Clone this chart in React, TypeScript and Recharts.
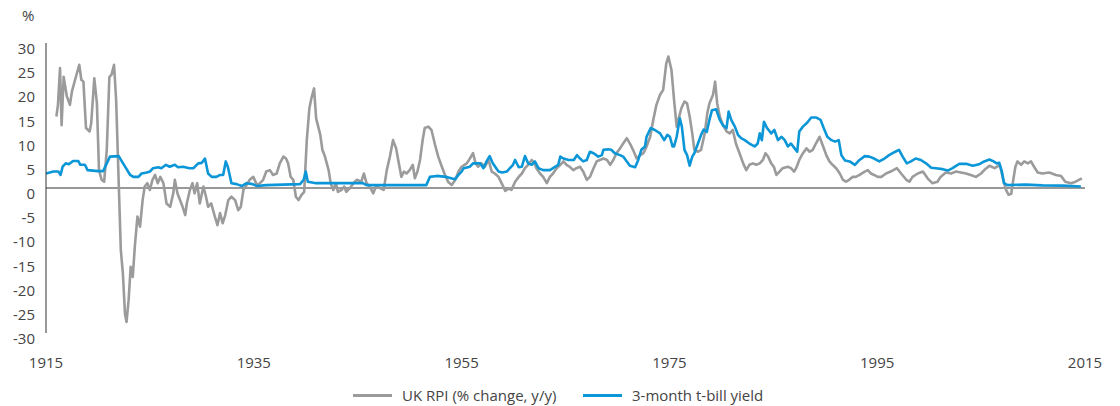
import { LineChart, Line, XAxis, YAxis, ReferenceLine } from "recharts";

// UK RPI, % change y/y (irregular dates)
const rpiYears = [
  1916.0, 1916.15, 1916.35, 1916.5, 1916.7, 1917.0, 1917.3, 1917.5, 1917.8, 1918.2, 1918.4, 1918.6,
  1918.85, 1919.2, 1919.35, 1919.65, 1919.9, 1920.1, 1920.35, 1920.6, 1920.85, 1921.1, 1921.3, 1921.55,
  1921.75, 1922.0, 1922.2, 1922.4, 1922.6, 1922.75, 1922.95, 1923.15, 1923.35, 1923.55, 1923.8, 1924.05,
  1924.3, 1924.5, 1924.75, 1925.0, 1925.25, 1925.5, 1925.75, 1926.0, 1926.3, 1926.6, 1926.95, 1927.25,
  1927.4, 1927.65, 1927.9, 1928.15, 1928.4, 1928.55, 1928.85, 1929.1, 1929.3, 1929.55, 1929.8, 1930.15,
  1930.4, 1930.6, 1930.9, 1931.25, 1931.5, 1931.75, 1932.0, 1932.25, 1932.55, 1932.85, 1933.2, 1933.5,
  1933.75, 1934.0, 1934.3, 1934.6, 1934.95, 1935.3, 1935.6, 1935.9, 1936.2, 1936.55, 1936.85, 1937.2,
  1937.5, 1937.85, 1938.1, 1938.3, 1938.55, 1938.8, 1939.05, 1939.3, 1939.6, 1939.85, 1940.1, 1940.35,
  1940.55, 1940.8, 1941.0, 1941.2, 1941.4, 1941.6, 1941.85, 1942.2, 1942.4, 1942.65, 1942.9, 1943.1,
  1943.45, 1943.7, 1943.9, 1944.25, 1944.6, 1944.9, 1945.35, 1945.6, 1945.85, 1946.15, 1946.5, 1946.75,
  1947.15, 1947.5, 1947.8, 1948.1, 1948.4, 1948.7, 1948.9, 1949.2, 1949.45, 1949.7, 1950.0, 1950.3,
  1950.5, 1950.75, 1951.0, 1951.25, 1951.45, 1951.8, 1952.1, 1952.45, 1952.75, 1953.1, 1953.4, 1953.7,
  1954.05, 1954.4, 1954.7, 1955.0, 1955.5, 1955.8, 1956.1, 1956.35, 1956.6, 1956.9, 1957.25, 1957.6,
  1957.9, 1958.2, 1958.55, 1958.85, 1959.2, 1959.5, 1959.8, 1960.15, 1960.5, 1960.8, 1961.1, 1961.4,
  1961.75, 1962.0, 1962.2, 1962.55, 1962.85, 1963.2, 1963.5, 1963.8, 1964.15, 1964.5, 1964.8, 1965.1,
  1965.4, 1965.75, 1966.05, 1966.4, 1966.7, 1967.05, 1967.35, 1967.7, 1968.0, 1968.3, 1968.65, 1969.0,
  1969.3, 1969.6, 1969.9, 1970.25, 1970.55, 1970.9, 1971.2, 1971.5, 1971.85, 1972.2, 1972.5, 1972.8,
  1973.15, 1973.45, 1973.75, 1974.1, 1974.4, 1974.7, 1974.9, 1975.2, 1975.45, 1975.7, 1975.9, 1976.15,
  1976.45, 1976.7, 1976.95, 1977.2, 1977.4, 1977.75, 1978.05, 1978.4, 1978.65, 1978.85, 1979.2, 1979.4,
  1979.6, 1979.85, 1980.15, 1980.5, 1980.8, 1981.1, 1981.4, 1981.75, 1982.1, 1982.4, 1982.7, 1983.05,
  1983.35, 1983.7, 1984.0, 1984.25, 1984.5, 1984.8, 1985.05, 1985.3, 1985.6, 1985.9, 1986.4, 1986.7,
  1987.0, 1987.2, 1987.5, 1987.85, 1988.2, 1988.5, 1988.8, 1989.1, 1989.45, 1989.8, 1990.1, 1990.4,
  1990.7, 1991.05, 1991.4, 1991.7, 1992.0, 1992.3, 1992.65, 1992.95, 1993.3, 1993.8, 1994.1, 1994.4,
  1994.7, 1995.05, 1995.4, 1995.85, 1996.3, 1996.9, 1997.3, 1997.8, 1998.1, 1998.4, 1998.9, 1999.4,
  1999.85, 2000.3, 2000.8, 2001.1, 2001.6, 2002.1, 2002.6, 2003.05, 2003.55, 2004.0, 2004.5, 2005.0,
  2005.3, 2005.8, 2006.3, 2006.55, 2006.8, 2007.1, 2007.4, 2007.65, 2007.9, 2008.1, 2008.3, 2008.5,
  2008.85, 2009.15, 2009.5, 2009.8, 2010.1, 2010.45, 2010.9, 2011.55, 2012.2, 2012.7, 2013.1, 2013.65,
  2014.1, 2014.7,
];
const rpiValues = [
  14.8, 17.2, 24.8, 13, 23, 19, 17.2, 20, 22.4, 25.5, 22.4, 22,
  12.4, 11.7, 13.4, 22.7, 17.5, 3.7, 1.7, 1.3, 7.9, 23, 23.4, 25.5,
  18.2, 1, -12.8, -17.7, -26, -27.7, -23.2, -16.3, -18.4, -12.1, -5.9, -8,
  -2.5, 0.3, 1, -0.4, 1.7, 2.7, 1, 2.3, 1, -3.2, -3.9, -1.1,
  1.7, -1.1, -2.5, -3.9, -5.6, -3.2, -0.4, 1, -1.1, 1, -3.2, 0.3,
  -1.8, -3.9, -3.2, -5.9, -7.7, -5.2, -7.3, -5.6, -2.5, -1.8, -2.5, -4.6,
  -3.9, -0.4, 0.6, 1.7, 2.3, 0.6, 1.0, 1.7, 3.4, 3.7, 2.7, 3,
  5.1, 6.5, 6.1, 5.1, 2.3, 1.7, -1.8, -2.5, -1.4, -0.8, 9.9, 16.5,
  18.6, 20.6, 14.4, 12.7, 11, 7.9, 6.5, 3.7, 1, -0.4, 1, -0.8,
  -0.4, 0.3, -0.8, 0, 1, 1.7, 1.3, 3, 1, 0.3, -1.1, 0.3,
  0, -0.4, 3.7, 6.5, 9.9, 8.2, 5.8, 2.3, 3.4, 3, 3.7, 4.8,
  2, 3.4, 5.8, 9.9, 12.4, 12.7, 12, 8.9, 6.5, 4.4, 2.7, 1.3,
  0.6, 1.7, 3.4, 4.4, 5.1, 6.1, 7.2, 5.1, 4.4, 5.1, 4.4, 5.8,
  3.4, 3, 2.3, 1, -0.6, -0.1, -0.4, 1.3, 2.3, 3, 4.1, 4.8,
  5.8, 5.1, 4.1, 3, 2.3, 1, 2.3, 3, 4.1, 4.8, 5.5, 4.8,
  4.4, 3.7, 4.1, 4.4, 3.4, 1.7, 2.3, 4.1, 5.5, 5.8, 6.1, 5.8,
  4.8, 5.8, 7.2, 8.2, 9.2, 10.3, 9.2, 7.9, 6.1, 6.8, 7.2, 8.6,
  10.6, 14.1, 17.2, 19.3, 20.3, 25.8, 27.2, 24.4, 18.2, 12.7, 14.4, 16.5,
  17.9, 17.5, 14.8, 11.3, 7.9, 7.5, 7.9, 11.3, 15.5, 17.5, 19.3, 22,
  17.5, 14.8, 13, 11.7, 11.3, 12, 9.2, 7.2, 5.1, 3.7, 4.8, 5.1,
  4.8, 5.1, 5.8, 7.2, 6.5, 5.1, 4.4, 2.7, 3.4, 4.1, 4.4, 4.1,
  3.4, 4.1, 5.8, 7.2, 8.2, 7.5, 7.9, 9.2, 10.6, 8.6, 6.8, 5.5,
  4.8, 4.1, 3, 1.7, 1.3, 1.7, 2.3, 2.3, 2.7, 3.4, 3.7, 3,
  2.7, 2.3, 2.3, 3, 3.4, 4.1, 3, 1.7, 1.3, 2.3, 3, 3.4,
  2, 1, 1.3, 2.3, 3.2, 3, 3.4, 3.2, 3, 2.7, 2.3, 3,
  3.7, 4.6, 4.1, 4.4, 4.8, 2, -0.4, -1.4, -1.2, 1.7, 4.4, 5.5,
  4.8, 5.5, 5.1, 5.5, 4.4, 3.2, 3, 3.2, 2.7, 2.5, 1.3, 1,
  1.3, 2,
];

// 3-month t-bill yield, %
const billYears = [
  1915.0, 1915.7, 1916.2, 1916.4, 1916.6, 1916.9, 1917.2, 1917.6, 1918.1, 1918.3, 1918.75, 1919.0,
  1920.0, 1920.5, 1920.85, 1921.15, 1922.0, 1922.3, 1922.7, 1923.1, 1923.4, 1923.9, 1924.2, 1924.7,
  1925.0, 1925.3, 1925.8, 1926.1, 1926.55, 1926.9, 1927.4, 1927.7, 1928.2, 1928.8, 1929.2, 1929.65,
  1930.0, 1930.3, 1930.6, 1930.95, 1931.4, 1931.75, 1932.05, 1932.3, 1932.5, 1932.85, 1933.35, 1933.85,
  1934.3, 1934.9, 1935.3, 1936.2, 1939.45, 1939.8, 1940.0, 1940.2, 1941.0, 1945.5, 1945.85, 1951.6,
  1951.95, 1952.6, 1953.55, 1954.35, 1954.7, 1955.0, 1955.2, 1955.8, 1956.1, 1956.8, 1957.1, 1957.4,
  1957.7, 1958.0, 1958.55, 1958.9, 1959.35, 1959.65, 1959.95, 1960.15, 1960.5, 1960.8, 1961.1, 1961.4,
  1961.75, 1962.05, 1962.4, 1962.85, 1963.5, 1963.8, 1964.3, 1964.5, 1964.8, 1965.3, 1965.8, 1966.1,
  1966.4, 1966.7, 1967.05, 1967.35, 1967.7, 1968.15, 1968.5, 1968.65, 1969.1, 1969.4, 1969.75, 1970.25,
  1970.55, 1970.9, 1971.2, 1971.7, 1972.0, 1972.3, 1972.65, 1972.8, 1973.2, 1973.6, 1974.1, 1974.5,
  1974.8, 1975.05, 1975.3, 1975.45, 1975.7, 1976.0, 1976.2, 1976.45, 1976.7, 1976.95, 1977.2, 1977.4,
  1977.75, 1978.05, 1978.3, 1978.6, 1978.85, 1979.1, 1979.5, 1979.85, 1980.15, 1980.5, 1980.7, 1980.95,
  1981.3, 1981.6, 1981.9, 1982.25, 1982.7, 1983.2, 1983.5, 1983.7, 1983.9, 1984.1, 1984.4, 1984.8,
  1985.1, 1985.45, 1985.8, 1986.1, 1986.4, 1986.7, 1987.05, 1987.3, 1987.5, 1987.85, 1988.25, 1988.65,
  1989.1, 1989.55, 1989.85, 1990.2, 1990.6, 1990.95, 1991.3, 1991.55, 1991.9, 1992.35, 1992.85, 1993.3,
  1993.8, 1994.25, 1994.7, 1995.2, 1995.7, 1996.15, 1996.65, 1997.1, 1997.45, 1997.85, 1998.25, 1998.7,
  1999.2, 1999.7, 2000.2, 2000.65, 2001.3, 2001.8, 2002.25, 2002.9, 2003.55, 2004.2, 2004.8, 2005.3,
  2005.8, 2006.2, 2006.5, 2006.75, 2007.0, 2007.2, 2007.55, 2009.3, 2010.9, 2012.85, 2014.6,
];
const billValues = [
  3, 3.4, 3.4, 2.7, 4.4, 5.1, 4.9, 5.6, 5.6, 4.8, 4.8, 3.7,
  3.5, 3.5, 5.1, 6.5, 6.6, 5.5, 4.1, 2.7, 2.3, 2.3, 3, 3.2,
  3.4, 4.1, 4.3, 4.1, 4.8, 4.4, 4.8, 4.3, 4.4, 4.1, 4.1, 5.1,
  5.2, 6.1, 3, 2.3, 2.3, 2.7, 2.7, 5.5, 4.4, 1, 0.8, 0.4,
  1, 0.8, 0.4, 0.6, 0.8, 1.7, 3.4, 1.3, 1, 1, 0.6, 0.6,
  2.3, 2.5, 2.3, 1.8, 2.7, 3.4, 4.1, 4.4, 5.1, 5.1, 4.1, 5.5,
  6.6, 5.1, 3.4, 3.2, 3.4, 4.1, 4.8, 5.8, 4.3, 4.4, 6.6, 5.1,
  4.8, 5.5, 4.1, 3.7, 3.7, 4.1, 4.8, 6.5, 6.1, 5.8, 5.8, 6.8,
  6.1, 5.5, 5.8, 7.5, 7.2, 6.5, 6.8, 7.9, 8, 7.9, 7.2, 6.8,
  6.5, 5.5, 4.6, 4.3, 5.8, 7.9, 8.6, 10.6, 12.4, 12, 11.3, 9.9,
  11, 10.6, 8.6, 8.6, 10.6, 14.4, 12.7, 7.9, 6.8, 4.6, 6.5, 7.2,
  9.2, 11, 12.1, 11.6, 14.1, 16.1, 16.3, 14.1, 13, 12.4, 15.8, 14.1,
  12.7, 11, 10.3, 9.9, 9.2, 8.6, 9.2, 11.3, 9.9, 13.7, 12.4, 11.3,
  12, 9.9, 10.6, 9.9, 8.6, 9.2, 8.2, 7.5, 11.7, 12.7, 13.5, 14.6,
  14.6, 14.1, 12.4, 10.6, 9.9, 9.6, 9.9, 6.8, 5.7, 5.5, 4.8, 5.8,
  6.6, 6.5, 6.1, 5.5, 6.1, 6.8, 7.4, 7.9, 6.5, 5.1, 5.5, 6.1,
  5.8, 5.1, 4.2, 4.1, 3.9, 3.6, 4.1, 5, 5, 4.6, 4.9, 5.5,
  5.9, 5.5, 5.1, 5.2, 3.4, 1, 0.6, 0.7, 0.55, 0.5, 0.3,
];

const xTicks = [1915, 1935, 1955, 1975, 1995, 2015];
const yTicks = [-30, -25, -20, -15, -10, -5, 0, 5, 10, 15, 20, 25, 30];

const rpiData = rpiYears.map((year, i) => ({ year, value: rpiValues[i] }));
const billData = billYears.map((year, i) => ({ year, value: billValues[i] }));

const FONT = "'Open Sans', 'Noto Sans', sans-serif";
const TEXT = "#444444";
const GREY = "#9b9b9c";
const BLUE = "#0b96d7";

function YTick({ y, payload }: any) {
  return (
    <text x={35} y={y + 5} textAnchor="end" dominantBaseline="central" fontSize={15} fill={TEXT} fontFamily={FONT}>
      {payload.value}
    </text>
  );
}

function XTick({ x, y, payload }: any) {
  return (
    <text x={x} y={y + 29} textAnchor="middle" dominantBaseline="central" fontSize={15} fill={TEXT} fontFamily={FONT}>
      {payload.value}
    </text>
  );
}

function LegendItem({ left, color, label }: { left: number; color: string; label: string }) {
  return (
    <div style={{ position: "absolute", left, top: 385, height: 20, display: "flex", alignItems: "center" }}>
      <span style={{ width: 39, height: 3, background: color, display: "inline-block" }} />
      <span style={{ marginLeft: 10, fontSize: 15, color: TEXT, fontFamily: FONT, whiteSpace: "nowrap" }}>{label}</span>
    </div>
  );
}

export default function App() {
  return (
    <div style={{ position: "absolute", left: 0, top: 0, width: 1120, height: 406, background: "#fff" }}>
      <div style={{ position: "absolute", left: 22, top: 5, fontSize: 15, color: TEXT, fontFamily: FONT }}>%</div>
      <LineChart width={1120} height={406} margin={{ top: 43, right: 35, left: 0, bottom: 43 }}>
        <XAxis
          type="number"
          dataKey="year"
          domain={[1915, 2015]}
          ticks={xTicks}
          axisLine={false}
          tickLine={false}
          tickSize={0}
          tickMargin={0}
          height={30}
          tick={<XTick />}
          allowDataOverflow
        />
        <YAxis
          type="number"
          domain={[-30, 30]}
          ticks={yTicks}
          width={46}
          axisLine={{ stroke: "#333" }}
          tickLine={false}
          tick={<YTick />}
          interval={0}
        />
        <ReferenceLine y={0} stroke="#333" strokeWidth={1} />
        <Line
          data={rpiData}
          dataKey="value"
          type="linear"
          stroke={GREY}
          strokeWidth={2.6}
          dot={false}
          strokeLinejoin="round"
          isAnimationActive={false}
        />
        <Line
          data={billData}
          dataKey="value"
          type="linear"
          stroke={BLUE}
          strokeWidth={2.6}
          dot={false}
          strokeLinejoin="round"
          isAnimationActive={false}
        />
      </LineChart>
      <LegendItem left={353} color={GREY} label="UK RPI (% change, y/y)" />
      <LegendItem left={583} color={BLUE} label="3-month t-bill yield" />
    </div>
  );
}
